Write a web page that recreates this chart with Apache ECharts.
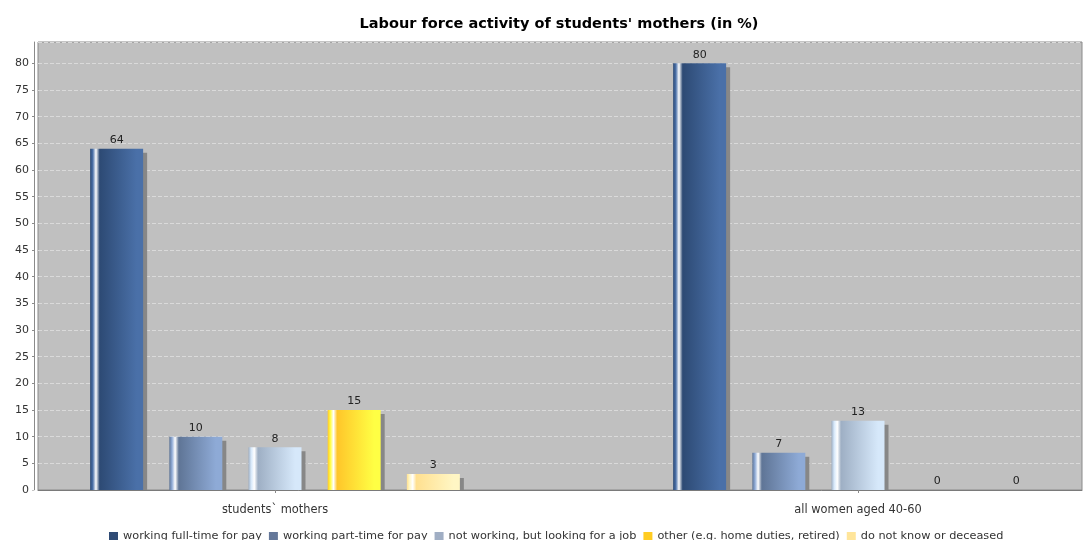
<!DOCTYPE html>
<html>
<head>
<meta charset="utf-8">
<script src="https://cdn.jsdelivr.net/npm/echarts@6/dist/echarts.min.js"></script>
<style>html,body{margin:0;padding:0;background:#fff}#c{width:1083px;height:540px}</style>
</head>
<body>
<div id="c"></div>
<script>
const categories = ['students` mothers', 'all women aged 40-60'];
const seriesNames = ['working full-time for pay', 'working part-time for pay', 'not working, but looking for a job', 'other (e.g. home duties, retired)', 'do not know or deceased'];
const fullTime = [64, 80];
const partTime = [10, 7];
const looking = [8, 13];
const other = [15, 0];
const unknown = [3, 0];
const yTicks = [0, 5, 10, 15, 20, 25, 30, 35, 40, 45, 50, 55, 60, 65, 70, 75, 80];

const values = [fullTime, partTime, looking, other, unknown];
const legendColors = ['#2f4b75', '#65789a', '#a0aec4', '#ffcc22', '#ffe59a'];
const grad = [
  ['#2d4a74', '#4a70a8'],
  ['#5f7596', '#8eaad6'],
  ['#9eafc4', '#d6e8fa'],
  ['#ffc62a', '#ffff44'],
  ['#ffe090', '#fff6c4']
];
function gradient(d, l) {
  return new echarts.graphic.LinearGradient(0, 0, 1, 0, [
    {offset: 0, color: d},
    {offset: 0.05, color: l},
    {offset: 0.11, color: '#ffffff'},
    {offset: 0.18, color: d},
    {offset: 0.88, color: l},
    {offset: 1, color: l}
  ]);
}
const chart = echarts.init(document.getElementById('c'), null, {renderer: 'canvas'});
const yMax = 84;
const option = {
  animation: false,
  textStyle: {fontFamily: 'DejaVu Sans'},
  title: {
    text: "Labour force activity of students' mothers (in %)",
    left: 554, top: 12, textAlign: 'center',
    textStyle: {fontFamily: 'DejaVu Sans', fontSize: 14.5, fontWeight: 'bold', color: '#000'}
  },
  legend: {
    top: 526, left: 104, itemWidth: 9, itemHeight: 9, itemGap: 7, icon: 'rect',
    textStyle: {fontFamily: 'DejaVu Sans', fontSize: 11.3, color: '#333'},
    data: seriesNames.map((n, i) => ({name: n, itemStyle: {color: legendColors[i]}}))
  },
  grid: [
    {left: 38, top: 42, width: 1044, height: 448, show: true, backgroundColor: '#c0c0c0', borderColor: '#8a8a8a', borderWidth: 1, outerBoundsMode: 'none', containLabel: false},
    {left: -16.5, top: 42, width: 1166, height: 448, show: false, outerBoundsMode: 'none', containLabel: false}
  ],
  xAxis: [
    {gridIndex: 0, type: 'category', data: categories, offset: 4, z: 200,
      axisLine: {lineStyle: {color: '#7a7a7a'}}, axisTick: {show: false}, axisLabel: {show: false}},
    {gridIndex: 1, type: 'category', data: categories, offset: 4, z: 200,
      axisLine: {show: false},
      axisTick: {show: true, alignWithLabel: true, length: 3, lineStyle: {color: '#8a8a8a'}},
      axisLabel: {fontFamily: 'DejaVu Sans', fontSize: 11.4, color: '#333', margin: 11}}
  ],
  yAxis: [
    {gridIndex: 0, type: 'value', min: 0, max: yMax, interval: 5, offset: 4,
      axisLine: {show: true, lineStyle: {color: '#8a8a8a'}},
      axisTick: {show: true, length: 2, lineStyle: {color: '#8a8a8a'}},
      axisLabel: {fontFamily: 'DejaVu Sans', fontSize: 11, color: '#333', margin: 5, showMaxLabel: false,
        formatter: v => (yTicks.indexOf(v) >= 0 ? String(v) : '')},
      splitLine: {show: true, lineStyle: {color: '#dadada', type: [4, 2], width: 1}}},
    {gridIndex: 1, type: 'value', min: 0, max: yMax, interval: 5, show: false, splitLine: {show: false}}
  ],
  graphic: [
    {type: 'rect', z: 100, shape: {x: 30, y: 490.5, width: 1060, height: 3.5}, style: {fill: '#ffffff'}}
  ],
  series: values.map((arr, i) => ({
    name: seriesNames[i], type: 'bar', xAxisIndex: 1, yAxisIndex: 1,
    data: arr, barWidth: 53, barGap: '49.4%',
    itemStyle: {color: gradient(grad[i][0], grad[i][1]), shadowColor: '#878787', shadowOffsetX: 4, shadowOffsetY: 4, shadowBlur: 0},
    label: {show: true, position: 'top', distance: 3, fontFamily: 'DejaVu Sans', fontSize: 11, color: '#222'}
  }))
};
chart.setOption(option);
</script>
</body>
</html>
